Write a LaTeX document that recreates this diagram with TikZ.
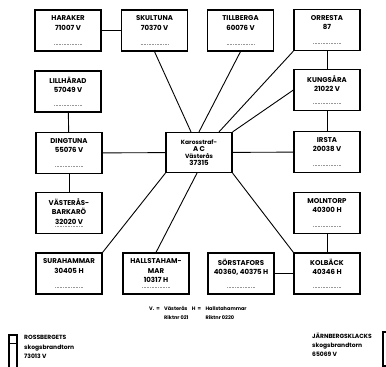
\documentclass[tikz,border=0pt]{standalone}
\usepackage{fontspec}
\setmainfont{Poppins}
\usetikzlibrary{calc}

\begin{document}
\begin{tikzpicture}[x=1pt,y=-1pt]
    \tikzstyle{station} = [
      draw=black,
      line width=1.2pt,
      anchor=center,
      inner xsep=4pt,
      inner ysep=6pt,
      font=\fontsize{7}{9.5}\selectfont\bfseries,
      execute at begin node={\begin{minipage}[c][29pt][t]{58pt}\centering},
      execute at end node={\end{minipage}},
      path picture={
        \draw[densely dotted, draw=black!40, line width=0.6pt]
          ([xshift=-14pt, yshift=7pt] path picture bounding box.south) --
          ([xshift=14pt, yshift=7pt] path picture bounding box.south);
      },
    ]
    \tikzstyle{central} = [
      draw=black,
      line width=1.2pt,
      anchor=center,
      align=center,
      minimum width=66pt,
      minimum height=40pt,
      inner sep=0pt,
      font=\fontsize{6}{7.2}\selectfont\bfseries,
    ]
    \tikzstyle{link} = [
      line width=0.9pt,
      draw=black,
    ]
    \tikzstyle{legend} = [
      inner sep=0pt,
      font=\fontsize{5}{6}\selectfont\bfseries,
    ]
    \tikzstyle{note} = [
      anchor=north west,
      align=left,
      inner sep=0pt,
      font=\fontsize{6}{9.3}\selectfont\bfseries,
    ]

    \useasboundingbox (0,0) rectangle (386,367);

    % first row
    {
      \node[station] (haraker)   at (68,30.5)    {HARAKER\\71007 V};
      \node[station] (skultuna)  at (154.5,30.5) {SKULTUNA\\70370 V};
      \node[station] (tillberga) at (240.5,30.5) {TILLBERGA\\60076 V};
      \node[station] (orresta)   at (327,30)     {ORRESTA\\87};
    }

    % left column
    {
      \node[station] (lillharad) at (68,91.5)  {LILLHÄRAD\\57049 V};
      \node[station] (dingtuna)  at (69,153)   {DINGTUNA\\55076 V};
      \node[station] (barkaro)   at (69,213)   {VÄSTERÅS-\\BARKARÖ\\32020 V};
    }

    % right column
    {
      \node[station] (kungsara) at (327,90)  {KUNGSÅRA\\21022 V};
      \node[station] (irsta)    at (327,152) {IRSTA\\20038 V};
      \node[station] (molntorp) at (327,213) {MOLNTORP\\40300 H};
    }

    % bottom row
    {
      \node[station] (surahammar)    at (69,273.5)  {SURAHAMMAR\\30405 H};
      \node[station] (hallstahammar) at (156,273.5) {HALLSTAHAM-\\MAR\\10317 H};
      \node[station] (sorstafors)    at (241,273.5) {SÖRSTAFORS\\40360, 40375 H};
      \node[station] (kolback)       at (327,273.5) {KOLBÄCK\\40346 H};
    }

    % exchange
    {
      \node[central] (exchange) at (199,152.5)
        {Karosstraf-\\{\fontsize{7}{7.2}\selectfont A C}\\Västerås\\{\fontsize{7}{7.2}\selectfont 37315}};
    }

    % lines
    {
      \draw[link] (haraker) -- (skultuna);
      \draw[link] (lillharad) -- (dingtuna);
      \draw[link] (dingtuna) -- (barkaro);
      \draw[link] (dingtuna) -- (exchange);
      \draw[link] (skultuna.south) -- ([xshift=-8pt] exchange.north);
      \draw[link] (tillberga.south) -- (exchange.north);
      \draw[link] (orresta.south west) -- ([xshift=20pt] exchange.north);
      \draw[link] (kungsara.west) -- (exchange.north east);
      \draw[link] (orresta) -- (kungsara);
      \draw[link] (kungsara) -- (irsta);
      \draw[link] (irsta) -- (exchange);
      \draw[link] (molntorp) -- (kolback);
      \draw[link] (sorstafors) -- (kolback);
      \draw[link] (exchange.south east) -- (kolback.north west);
      \draw[link] (exchange.south west) -- (surahammar.north east);
      \draw[link] ([xshift=-2pt] exchange.south) -- (hallstahammar.north);
    }

    % legend
    {
      \node[legend, anchor=base west] (nameV) at (164,310) {Västerås};
      \node[legend, anchor=base east] (keyV) at ([xshift=-4pt] nameV.base west) {V.\ \ =};
      \node[legend, anchor=base west] (riktV) at ([yshift=-9pt] nameV.base west) {Riktnr 021};
      \node[legend, anchor=base west] (keyH) at ([xshift=4pt] nameV.base east) {H\ \ =};
      \node[legend, anchor=base west] (nameH) at ([xshift=4pt] keyH.base east) {Hallstahammar};
      \node[legend, anchor=base west] (riktH) at ([yshift=-9pt] nameH.base west) {Riktnr 0220};
    }

    % lookout towers
    {
      \node[note] (rossberget) at (24,335.5) {ROSSBERGETS\\skogsbrandtorn\\73013 V};
      \node[note] (jarnberg)   at (312,332.5) {JÄRNBERGSKLACKS\\skogsbrandtorn\\65069 V};
      \begin{scope}
        \clip (0,0) rectangle (386,367);
        \draw[line width=1.2pt] (9,372) -- (9,335) -- (17,335) -- (17,372);
        \draw[line width=0.8pt] (9,343) -- (17,343);
        \draw[line width=1.2pt] (392,332) -- (383,332) -- (383,366) -- (392,366);
      \end{scope}
    }
\end{tikzpicture}
\end{document}
